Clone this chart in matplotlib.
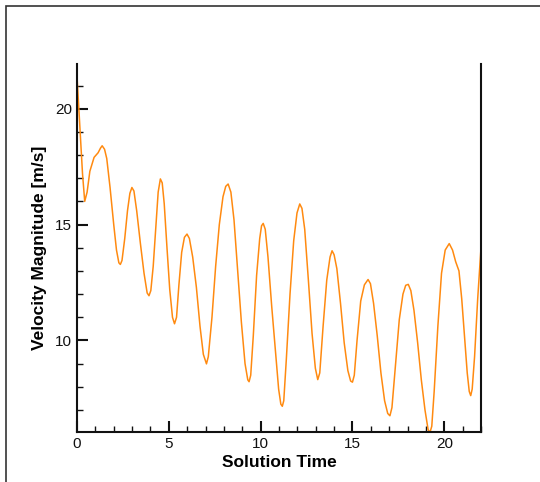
import matplotlib
matplotlib.use("Agg")
import matplotlib.pyplot as plt
from matplotlib.patches import Rectangle
from matplotlib.ticker import MultipleLocator

plt.rcParams['font.family'] = ['Liberation Sans', 'DejaVu Sans']

# solution time / velocity magnitude
t = [0.00, 0.15, 0.30, 0.42, 0.55, 0.70, 0.93, 1.15, 1.28, 1.37, 1.50, 1.62,
     1.80, 2.00, 2.15, 2.28, 2.36, 2.45, 2.60, 2.75, 2.88, 2.99, 3.10, 3.25,
     3.45, 3.65, 3.82, 3.92, 4.02, 4.15, 4.30, 4.42, 4.54, 4.64, 4.75, 4.90,
     5.05, 5.20, 5.31, 5.42, 5.55, 5.70, 5.85, 5.99, 6.12, 6.30, 6.50, 6.70,
     6.88, 7.05, 7.15, 7.35, 7.55, 7.75, 7.95, 8.10, 8.23, 8.38, 8.55, 8.75,
     8.95, 9.15, 9.30, 9.37, 9.46, 9.60, 9.78, 9.95, 10.05, 10.14, 10.25, 10.40,
     10.60, 10.80, 10.98, 11.10, 11.18, 11.26, 11.40, 11.60, 11.80, 11.98, 12.13, 12.25,
     12.40, 12.60, 12.80, 12.98, 13.11, 13.22, 13.40, 13.60, 13.78, 13.89, 14.00, 14.15,
     14.35, 14.55, 14.75, 14.90, 15.00, 15.10, 15.25, 15.45, 15.65, 15.85, 15.98, 16.15,
     16.35, 16.55, 16.75, 16.92, 17.04, 17.15, 17.35, 17.55, 17.75, 17.90, 18.04, 18.18,
     18.35, 18.55, 18.75, 18.95, 19.12, 19.22, 19.32, 19.45, 19.65, 19.85, 20.05, 20.27,
     20.45, 20.62, 20.80, 20.95, 21.10, 21.25, 21.36, 21.44, 21.52, 21.65, 21.82, 22.00]
vel = [21.4, 19.3, 17.2, 16.0, 16.4, 17.3, 17.9, 18.1, 18.3, 18.4, 18.25, 17.85,
       16.6, 15.0, 13.9, 13.35, 13.28, 13.45, 14.4, 15.6, 16.35, 16.6, 16.45, 15.6,
       14.2, 12.9, 12.05, 11.93, 12.15, 13.2, 15.0, 16.4, 16.97, 16.8, 15.9, 14.0,
       12.2, 11.0, 10.72, 11.0, 12.4, 13.8, 14.45, 14.59, 14.4, 13.6, 12.3, 10.6,
       9.4, 8.99, 9.3, 11.0, 13.2, 15.0, 16.2, 16.65, 16.75, 16.4, 15.2, 13.0,
       10.8, 9.0, 8.3, 8.22, 8.5, 10.2, 12.8, 14.4, 14.95, 15.05, 14.8, 13.6,
       11.5, 9.6, 7.9, 7.25, 7.16, 7.4, 9.2, 12.0, 14.3, 15.5, 15.89, 15.7,
       14.8, 12.6, 10.3, 8.8, 8.31, 8.6, 10.6, 12.6, 13.6, 13.87, 13.7, 13.1,
       11.6, 9.9, 8.7, 8.25, 8.2, 8.5, 10.0, 11.7, 12.4, 12.63, 12.45, 11.6,
       10.2, 8.6, 7.4, 6.85, 6.75, 7.1, 9.0, 10.9, 12.0, 12.38, 12.42, 12.15,
       11.3, 9.9, 8.3, 7.0, 6.15, 6.03, 6.3, 7.8, 10.6, 12.9, 13.9, 14.18,
       13.9, 13.4, 13.0, 11.8, 10.2, 8.6, 7.8, 7.62, 7.9, 9.3, 11.8, 14.0]

fig = plt.figure(figsize=(5.4, 4.82), dpi=100)
fig.patches.append(Rectangle((6 / 540, -0.1), 1.2, 1.1 - 6 / 482, transform=fig.transFigure,
                             fill=False, edgecolor='#333333', linewidth=1.2))

ax = fig.add_axes([77 / 540, 1 - 432 / 482, (481 - 77) / 540, (432 - 63.5) / 482])
ax.plot(t, vel, color='#ff8a10', linewidth=1.1)

ax.set_xlim(0, 22)
ax.set_ylim(6.05, 21.95)
ax.xaxis.set_major_locator(MultipleLocator(5))
ax.xaxis.set_minor_locator(MultipleLocator(1))
ax.yaxis.set_major_locator(MultipleLocator(5))
ax.yaxis.set_minor_locator(MultipleLocator(1))
ax.tick_params(which='both', direction='in', top=False, right=False, colors='#111111',
               labelsize=11)
ax.tick_params(which='major', length=8, width=1.5)
ax.tick_params(which='minor', length=4, width=1.0)
ax.spines['top'].set_visible(False)
for s in ['left', 'bottom', 'right']:
    ax.spines[s].set_linewidth(1.5)
    ax.spines[s].set_color('#111111')

ax.set_xlabel('Solution Time', fontsize=12.5, fontweight='bold', labelpad=3)
ax.set_ylabel('Velocity Magnitude [m/s]', fontsize=12.5, fontweight='bold', labelpad=6)

fig.savefig('out.png', dpi=100)
